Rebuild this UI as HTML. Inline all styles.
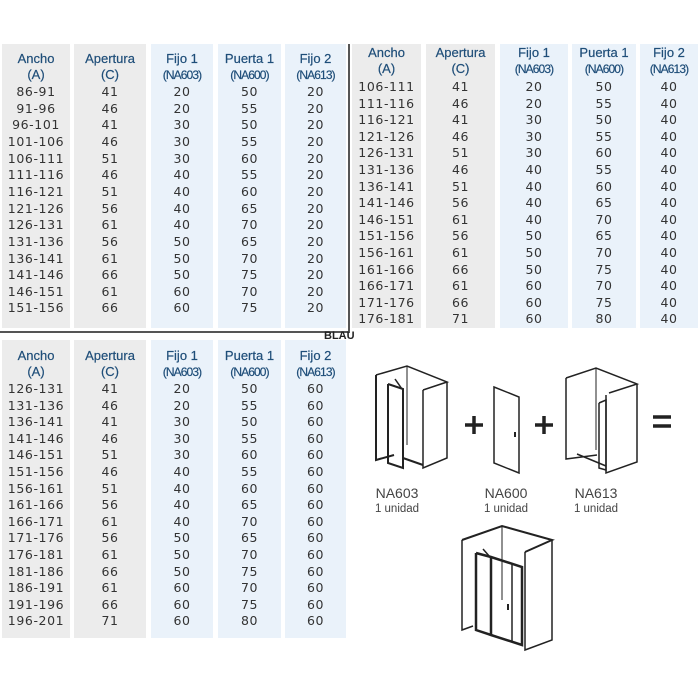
<!DOCTYPE html>
<html><head><meta charset="utf-8">
<style>
body{margin:0;width:700px;height:700px;background:#fff;position:relative;overflow:hidden;font-family:"DejaVu Sans","Liberation Sans",sans-serif}
.p{position:absolute}
.g{background:#ececec}.b{background:#eaf2fa}
.h{position:absolute;font-family:"Liberation Sans",sans-serif;color:#1f4e79;font-size:13px;text-align:center;transform:translateX(-50%);white-space:nowrap;line-height:16px;-webkit-text-stroke:0.2px #1f4e79}
.h small{font-size:12px;letter-spacing:-0.9px}
.d{position:absolute;font-size:12.5px;color:#333;transform:translateX(-50%);white-space:nowrap;letter-spacing:0.6px;line-height:16px}
.lbl{position:absolute;font-family:"Liberation Sans",sans-serif;color:#444;text-align:center;transform:translateX(-50%);white-space:nowrap}
</style></head><body>
<div id="root"></div>
<div class="p" style="left:348px;top:44px;width:2px;height:288px;background:#555"></div>
<div class="p" style="left:0;top:331px;width:350px;height:2px;background:#555"></div>
<div class="p" style="left:324px;top:330px;font-family:'Liberation Sans',sans-serif;font-weight:bold;font-size:11px;color:#222">BLAU</div>
<svg class="p" style="left:0;top:0" width="700" height="700" fill="none" stroke="#222" stroke-width="2">
<polyline points="376,375 407,366 447,382 423,390" stroke-width="1.5"/>
<polyline points="376,375 376,460 394,455"/>
<line x1="407" y1="366" x2="407" y2="445" stroke-width="1"/>
<polyline points="423,390 423,468 447,458 447,382" stroke-width="1.5"/>
<polyline points="388,384 403,389 403,468 388,463 388,384" stroke-width="2"/>
<polyline points="403,458 423,465" />
<line x1="395" y1="379" x2="402" y2="389" stroke-width="1.5"/>
<line x1="465" y1="425" x2="483" y2="425" stroke-width="3.5"/><line x1="474" y1="416" x2="474" y2="434" stroke-width="3.5"/>
<polygon points="494,387 519,397 519,473 494,463" stroke-width="1.5"/>
<line x1="515" y1="432" x2="515" y2="437" stroke-width="2"/>
<line x1="535" y1="425" x2="553" y2="425" stroke-width="3.5"/><line x1="544" y1="416" x2="544" y2="434" stroke-width="3.5"/>
<polyline points="566,378 596,368 637,384 609,393" stroke-width="1.5"/>
<polyline points="566,378 566,459 597,455" stroke-width="1.5"/>
<line x1="596" y1="368" x2="596" y2="450" stroke-width="1"/>
<polyline points="606,395 606,473 637,462 637,384" stroke-width="1.5"/>
<polyline points="599,403 606,400 606,470 599,468 599,403" stroke-width="1.5"/>
<polyline points="577,454 606,466" stroke-width="1.5"/>
<line x1="653" y1="417" x2="671" y2="417" stroke-width="3.5"/><line x1="653" y1="426" x2="671" y2="426" stroke-width="3.5"/>
<polyline points="462,540 502,526 552,540 525,552" stroke-width="2"/>
<polyline points="462,540 462,630 473,626" stroke-width="1.5"/>
<line x1="502" y1="526" x2="502" y2="600" stroke-width="1"/>
<polyline points="525,552 525,650 552,640 552,540" stroke-width="1.5"/>
<polyline points="476,553 491,557 522,567 522,645 491,635 476,630 476,553" stroke-width="2.5"/>
<line x1="491" y1="557" x2="491" y2="635" stroke-width="2.5"/>
<line x1="512" y1="563" x2="512" y2="642" stroke-width="1.5"/>
<line x1="508" y1="604" x2="508" y2="610" stroke-width="2"/>
<line x1="483" y1="549" x2="490" y2="557" stroke-width="1.5"/>
</svg>
<div class="lbl" style="left:397px;top:485px;font-size:14px">NA603</div>
<div class="lbl" style="left:397px;top:503px;font-size:11.5px">1 unidad</div>
<div class="lbl" style="left:506px;top:485px;font-size:14px">NA600</div>
<div class="lbl" style="left:506px;top:503px;font-size:11.5px">1 unidad</div>
<div class="lbl" style="left:596px;top:485px;font-size:14px">NA613</div>
<div class="lbl" style="left:596px;top:503px;font-size:11.5px">1 unidad</div>
<script>
const root=document.getElementById('root');
function add(h){root.insertAdjacentHTML('beforeend',h);}
const heads=[['Ancho','(A)'],['Apertura','(C)'],['Fijo 1','<small>(NA603)</small>'],['Puerta 1','<small>(NA600)</small>'],['Fijo 2','<small>(NA613)</small>']];
function table(panels,top,bottom,hy,ry,step,rows){
  panels.forEach((p,i)=>{
    add(`<div class="p ${i<2?'g':'b'}" style="left:${p[0]}px;top:${top}px;width:${p[1]-p[0]}px;height:${bottom-top}px"></div>`);
    const c=(p[0]+p[1])/2;
    add(`<div class="h" style="left:${c}px;top:${hy}px">${heads[i][0]}<br>${heads[i][1]}</div>`);
    rows.forEach((r,j)=>{add(`<div class="d" style="left:${c}px;top:${ry+j*step}px">${r[i]}</div>`);});
  });
}
const t1=`86-91 41 20 50 20
91-96 46 20 55 20
96-101 41 30 50 20
101-106 46 30 55 20
106-111 51 30 60 20
111-116 46 40 55 20
116-121 51 40 60 20
121-126 56 40 65 20
126-131 61 40 70 20
131-136 56 50 65 20
136-141 61 50 70 20
141-146 66 50 75 20
146-151 61 60 70 20
151-156 66 60 75 20`.split('\n').map(s=>s.split(' '));
const t2=`106-111 41 20 50 40
111-116 46 20 55 40
116-121 41 30 50 40
121-126 46 30 55 40
126-131 51 30 60 40
131-136 46 40 55 40
136-141 51 40 60 40
141-146 56 40 65 40
146-151 61 40 70 40
151-156 56 50 65 40
156-161 61 50 70 40
161-166 66 50 75 40
166-171 61 60 70 40
171-176 66 60 75 40
176-181 71 60 80 40`.split('\n').map(s=>s.split(' '));
const t3=`126-131 41 20 50 60
131-136 46 20 55 60
136-141 41 30 50 60
141-146 46 30 55 60
146-151 51 30 60 60
151-156 46 40 55 60
156-161 51 40 60 60
161-166 56 40 65 60
166-171 61 40 70 60
171-176 56 50 65 60
176-181 61 50 70 60
181-186 66 50 75 60
186-191 61 60 70 60
191-196 66 60 75 60
196-201 71 60 80 60`.split('\n').map(s=>s.split(' '));
const P1=[[2,70],[74,146],[151,213],[218,281],[285,346]];
table(P1,44,328,51,84,16.65,t1);
table([[352,421],[426,495],[500,568],[572,636],[640,698]],44,328,45,79,16.6,t2);
table(P1,340,638,348,381,16.6,t3);
</script>
</body></html>
